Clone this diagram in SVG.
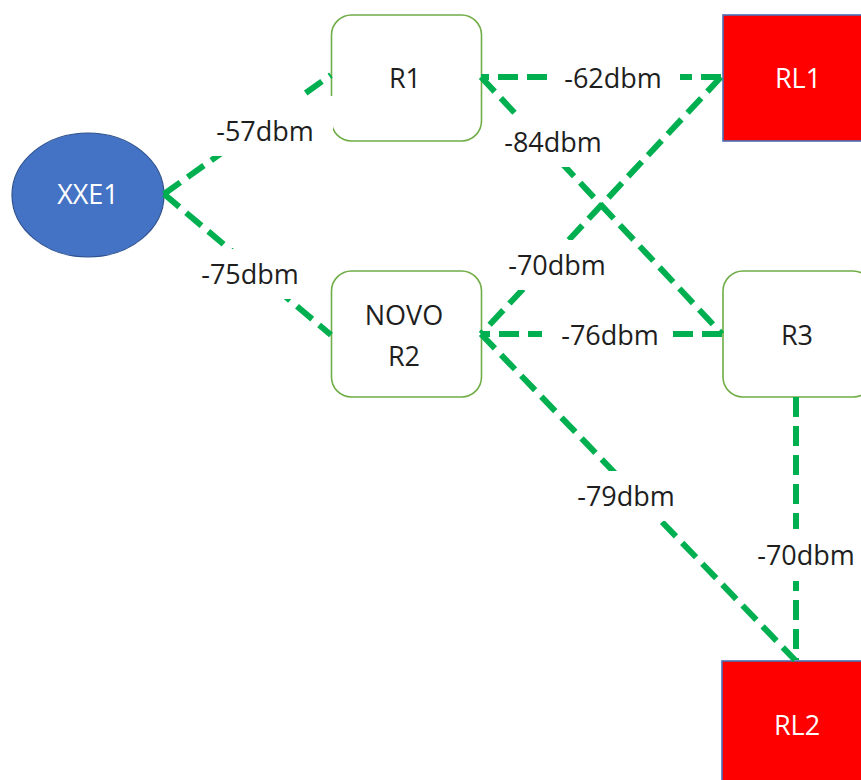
<svg xmlns="http://www.w3.org/2000/svg" width="861" height="780" viewBox="0 0 861 780">
<style>
.rt{fill:#ffffff;stroke:#70AD47;stroke-width:1.6}
.rl{fill:#FF0000;stroke:#4A6FB5;stroke-width:1.6}
.el{fill:#4472C4;stroke:#2F528F;stroke-width:1.2}
.t{font-family:"Open Sans","Liberation Sans",sans-serif;font-size:27px;text-anchor:middle;fill:#1e1e1e}
.w{fill:#ffffff}
.c{fill:none;stroke:#00B050;stroke-width:6;stroke-dasharray:20 9}
.bg{fill:#ffffff}
</style>
<rect width="861" height="780" fill="#ffffff"/>
<g id="XXE1"><ellipse class="el" cx="88" cy="195" rx="76" ry="62"/><text class="t w" x="88" y="204">XXE1</text></g>
<g id="R1"><rect class="rt" x="331.5" y="15" width="150" height="126" rx="20"/><text class="t" x="405" y="88">R1</text></g>
<g id="RL1"><rect class="rl" x="723" y="15" width="150" height="126"/><text class="t w" x="798" y="88">RL1</text></g>
<g id="NOVOR2"><rect class="rt" x="331.5" y="271" width="150" height="126" rx="20"/><text class="t" x="404" y="325">NOVO</text><text class="t" x="404" y="366">R2</text></g>
<g id="R3"><rect class="rt" x="723" y="271" width="150" height="126" rx="20"/><text class="t" x="797" y="345">R3</text></g>
<g id="RL2"><rect class="rl" x="722" y="661" width="150" height="126"/><text class="t w" x="797" y="735">RL2</text></g>
<g id="connectors">
<line class="c" x1="164" y1="194" x2="331" y2="75"/>
<line class="c" x1="164" y1="194" x2="331" y2="335"/>
<line class="c" x1="721" y1="77" x2="481" y2="77"/>
<line class="c" x1="481" y1="77" x2="722" y2="334"/>
<line class="c" x1="721" y1="77" x2="481" y2="334"/>
<line class="c" x1="722" y1="334" x2="481" y2="334"/>
<line class="c" x1="481" y1="334" x2="795" y2="660"/>
<line class="c" x1="796" y1="397" x2="796" y2="660"/>
</g>
<g id="labels">
<rect class="bg" x="198" y="96" width="135" height="60"/><text class="t" x="265" y="141">-57dbm</text>
<rect class="bg" x="185" y="249" width="130" height="50"/><text class="t" x="250" y="284">-75dbm</text>
<rect class="bg" x="549" y="53" width="131" height="50"/><text class="t" x="613" y="88">-62dbm</text>
<rect class="bg" x="488" y="117" width="130" height="50"/><text class="t" x="553" y="152">-84dbm</text>
<rect class="bg" x="492" y="240" width="130" height="50"/><text class="t" x="557" y="275">-70dbm</text>
<rect class="bg" x="542" y="309" width="122" height="50"/><text class="t" x="610" y="345">-76dbm</text>
<rect class="bg" x="561" y="471" width="130" height="50"/><text class="t" x="626" y="506">-79dbm</text>
<rect class="bg" x="741" y="529" width="130" height="52"/><text class="t" x="806" y="565">-70dbm</text>
</g>
</svg>
